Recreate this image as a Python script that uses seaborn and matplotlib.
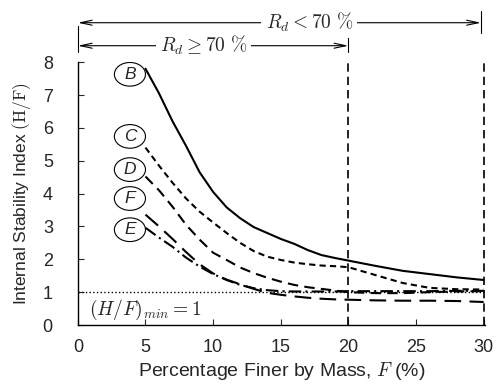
import numpy as np
import pandas as pd
import seaborn as sns
import matplotlib.pyplot as plt
from matplotlib.patches import Ellipse

# percentage finer (%) at which each curve was read
F_pct = [5, 6, 7, 8, 9, 10, 11, 12, 13, 14, 15, 16, 17, 18, 19, 20, 22, 24, 26, 28, 30]

# internal stability index H/F for each gradation
B = [7.8, 7.05, 6.2, 5.45, 4.65, 4.05, 3.58, 3.25, 2.98, 2.8, 2.62, 2.47, 2.28, 2.13, 2.04, 1.96, 1.8, 1.65, 1.55, 1.45, 1.37]
C = [5.4, 4.85, 4.33, 3.85, 3.45, 3.12, 2.8, 2.5, 2.25, 2.08, 1.98, 1.9, 1.85, 1.81, 1.79, 1.76, 1.52, 1.28, 1.13, 1.09, 1.08]
D = [4.52, 4.1, 3.6, 3.05, 2.6, 2.2, 1.98, 1.75, 1.58, 1.44, 1.32, 1.22, 1.15, 1.1, 1.05, 1.0, 0.97, 0.97, 1.0, 1.02, 1.03]
E = [2.96, 2.66, 2.38, 2.05, 1.78, 1.55, 1.37, 1.22, 1.12, 1.06, 1.03, 1.02, 1.02, 1.02, 1.02, 1.03, 1.03, 1.03, 1.03, 1.04, 1.04]
Fc = [3.36, 3.0, 2.62, 2.22, 1.85, 1.57, 1.38, 1.24, 1.1, 0.98, 0.92, 0.87, 0.83, 0.8, 0.78, 0.77, 0.75, 0.74, 0.74, 0.73, 0.7]

curve_names = ["B", "C", "D", "F", "E"]
curve_values = [B, C, D, Fc, E]
label_y = [7.63, 5.74, 4.73, 3.85, 2.9]

x_ticks = [0, 5, 10, 15, 20, 25, 30]
y_ticks = [0, 1, 2, 3, 4, 5, 6, 7, 8]
hf_min = 1

sns.set_theme(style="ticks")
plt.rcParams['font.family'] = ['Liberation Sans', 'DejaVu Sans']
plt.rcParams['mathtext.fontset'] = 'cm'
plt.rcParams['xtick.direction'] = 'in'
plt.rcParams['ytick.direction'] = 'in'

fig = plt.figure(figsize=(4.99, 3.86), dpi=100)
ax = fig.add_axes([0.156, 0.158, 0.816, 0.681])

styles = {
    "B": "-",
    "C": (0, (3, 2)),
    "D": (0, (5, 3)),
    "F": (0, (8, 4)),
    "E": (0, (6, 2, 1, 2)),
}

for name, vals in zip(curve_names, curve_values):
    df = pd.DataFrame({"F": F_pct, "HF": vals})
    sns.lineplot(data=df, x="F", y="HF", ax=ax, color="black",
                 linestyle=styles[name], lw=1.5)

# circled curve labels
for name, yy in zip(curve_names, label_y):
    ax.add_patch(Ellipse((3.85, yy), 2.3, 0.72, fc="white", ec="black", lw=0.8, zorder=3))
    ax.text(3.85, yy, name, style="italic", fontsize=12.5, ha="center", va="center", zorder=4)

# minimum H/F line
ax.axhline(hf_min, color="black", ls=":", lw=1.0)
ax.text(0.8, 0.45, r"$(H/F)_{min} = 1$", fontsize=14, ha="left", va="center")

# R_d boundaries
for xv in [20, 30]:
    ax.plot([xv, xv], [0, 8], color="black", ls=(0, (5, 3)), lw=1.2, clip_on=False)

# range arrows above the plot
arrow = dict(arrowstyle="<->,head_length=0.7,head_width=0.15", color="black",
             lw=0.8, shrinkA=0, shrinkB=0)
ax.annotate("", xy=(0, 9.2), xytext=(29.8, 9.2), annotation_clip=False, arrowprops=arrow)
ax.text(17.1, 9.2, r"$R_d < 70\ \%$", fontsize=14, ha="center", va="center",
        bbox=dict(fc="white", ec="none", pad=3))
ax.annotate("", xy=(0, 8.5), xytext=(20, 8.5), annotation_clip=False, arrowprops=arrow)
ax.text(9.3, 8.5, r"$R_d \geq 70\ \%$", fontsize=14, ha="center", va="center",
        bbox=dict(fc="white", ec="none", pad=3))
ax.plot([0, 0], [8.3, 9.1], color="black", lw=0.8, clip_on=False)
ax.plot([20, 20], [8.3, 8.8], color="black", lw=0.8, clip_on=False)
ax.plot([29.8, 29.8], [8.9, 9.55], color="black", lw=0.8, clip_on=False)

ax.set_xlim(0, 30.1)
ax.set_ylim(0, 8)
ax.set_xticks(x_ticks)
ax.set_yticks(y_ticks)
ax.tick_params(labelsize=13, length=4, width=0.8)
ax.tick_params(axis="x", pad=10)
ax.tick_params(axis="y", pad=18)
ax.set_xlabel(r"Percentage Finer by Mass, $F$ (%)", fontsize=14, labelpad=3)
ax.set_ylabel(r"Internal Stability Index $\mathrm{(H/F)}$", fontsize=12.5, labelpad=7)
sns.despine(ax=ax)
for s in ["left", "bottom"]:
    ax.spines[s].set_linewidth(1.0)
    ax.spines[s].set_color("black")

fig.savefig("out.png", dpi=100)
